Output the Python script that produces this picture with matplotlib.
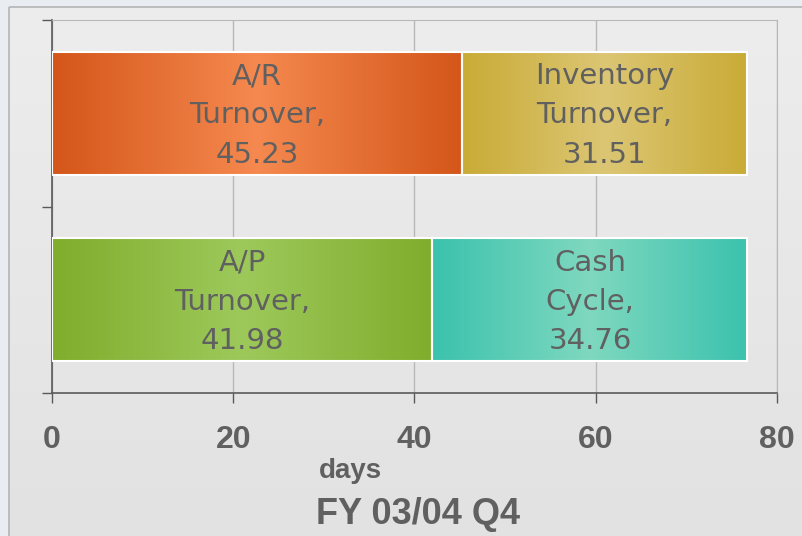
import matplotlib.pyplot as plt
import numpy as np
from matplotlib.colors import LinearSegmentedColormap
from matplotlib.patches import Rectangle

# data: two rows, each a stacked pair of segments
rows = [1, 0]
first_names = ['A/R\nTurnover', 'A/P\nTurnover']
first_vals = [45.23, 41.98]
second_names = ['Inventory\nTurnover', 'Cash\nCycle']
second_vals = [31.51, 34.76]
xticks = [0, 20, 40, 60, 80]
xlabel = 'days'
title = 'FY 03/04 Q4'

# (edge colour, centre colour) of each gradient
first_cols = [('#d4561a', '#f5894f'), ('#80ad2c', '#9dc95b')]
second_cols = [('#c9ab36', '#dcc674'), ('#3bc2ae', '#7fd8bf')]

narrow = ['Liberation Sans', 'DejaVu Sans']
grey = '#606060'

fig = plt.figure(figsize=(8.03, 5.36), dpi=100, facecolor='#e9edf1')

# panel behind the chart
bg = fig.add_axes([0, 0, 1, 1], zorder=-1)
vert = np.linspace(0, 1, 256).reshape(-1, 1)
bg.imshow(vert, cmap=LinearSegmentedColormap.from_list('p', ['#ededed', '#e2e2e2']),
          extent=[9, 803, 536, 7], aspect='auto')
bg.add_patch(Rectangle((9, 7), 820, 560, fill=False, ec='#b4b4b4', lw=1.2))
bg.set_xlim(0, 803)
bg.set_ylim(536, 0)
bg.axis('off')

ax = fig.add_axes([52 / 803, 1 - 393 / 536, 725 / 803, 373 / 536])
ax.set_facecolor('none')


def grad_fill(patch, dark, light):
    x0, y0 = patch.get_x(), patch.get_y()
    w, h = patch.get_width(), patch.get_height()
    cmap = LinearSegmentedColormap.from_list('g', [dark, light, dark])
    g = np.linspace(0, 1, 256).reshape(1, -1)
    im = ax.imshow(g, cmap=cmap, extent=[x0, x0 + w, y0, y0 + h],
                   aspect='auto', zorder=2)
    im.set_clip_path(patch)


b1 = ax.barh(rows, first_vals, height=0.66, facecolor='none',
             edgecolor='white', lw=1.5, zorder=3)
b2 = ax.barh(rows, second_vals, left=first_vals, height=0.66,
             facecolor='none', edgecolor='white', lw=1.5, zorder=3)

for bars, names, vals, cols in [(b1, first_names, first_vals, first_cols),
                                (b2, second_names, second_vals, second_cols)]:
    for p, n, v, c in zip(bars, names, vals, cols):
        grad_fill(p, c[0], c[1])
        ax.text(p.get_x() + p.get_width() / 2, p.get_y() + p.get_height() / 2 - 0.012,
                '%s,\n%.2f' % (n, v), ha='center', va='center', fontsize=21,
                color=grey, linespacing=1.52, zorder=4)

ax.set_xlim(0, 80)
ax.set_ylim(-0.5, 1.5)
ax.set_xticks(xticks)
ax.set_yticks([-0.5, 0.5, 1.5])
ax.set_yticklabels([])
ax.grid(axis='x', color='#b8b8b8', lw=1)
ax.set_axisbelow(True)

for s in ['top', 'right']:
    ax.spines[s].set_color('#b8b8b8')
for s in ['left', 'bottom']:
    ax.spines[s].set_color('#5a5a5a')
    ax.spines[s].set_linewidth(1.2)

ax.tick_params(axis='both', length=7, width=1, color='#5a5a5a')
ax.tick_params(axis='x', pad=16, labelsize=23, labelcolor=grey)
for lab in ax.get_xticklabels():
    lab.set_family(narrow)
    lab.set_weight('bold')

fig.text(350 / 803, 1 - 471 / 536, xlabel, ha='center', va='center',
         fontsize=20, weight='bold', color=grey, family=narrow)
fig.text(418 / 803, 1 - 514 / 536, title, ha='center', va='center',
         fontsize=26, weight='bold', color=grey, family=narrow)

fig.savefig('out.png', dpi=100, facecolor=fig.get_facecolor())
